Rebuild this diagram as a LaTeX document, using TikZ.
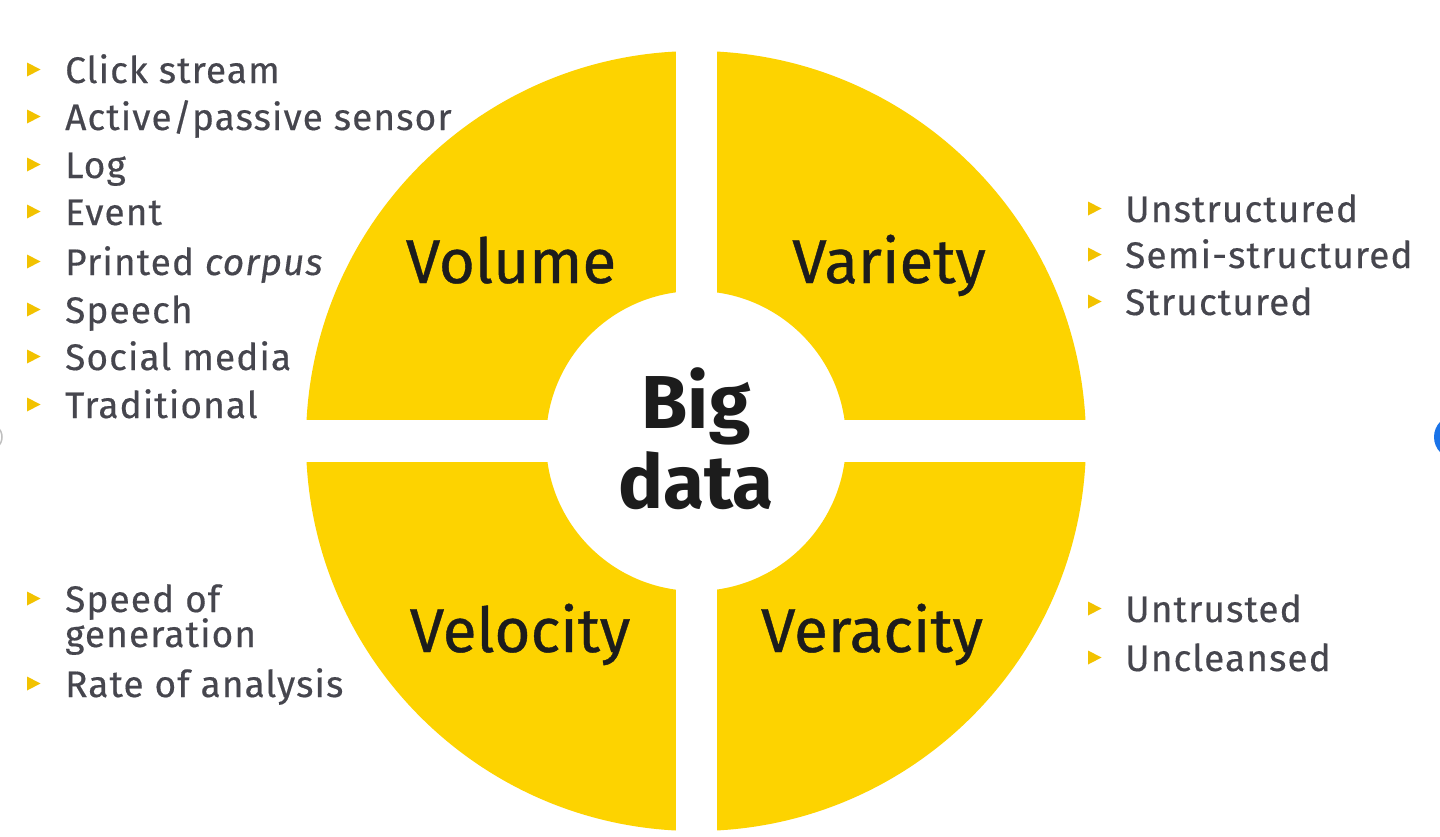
\documentclass[tikz,border=0pt]{standalone}
\usepackage{fontspec}
\setmainfont{Fira Sans}
\newfontfamily\listfont[LetterSpace=3,FakeBold=0.4]{Fira Sans}
\newfontfamily\quadfont[FakeBold=0.6]{Fira Sans}
\definecolor{eyyellow}{HTML}{FDD300}
\definecolor{bullet}{HTML}{F2C200}
\definecolor{listgray}{HTML}{46464E}
\definecolor{labelblack}{HTML}{1C1C1C}
\definecolor{uiblue}{HTML}{1A73E8}
\begin{document}
\begin{tikzpicture}[x=1pt,y=-1pt,
  item/.style={anchor=base west,inner sep=0pt,text=listgray,font=\listfont\fontsize{37}{42}\selectfont},
  quadlabel/.style={anchor=base,inner sep=0pt,text=labelblack,font=\quadfont\fontsize{62}{70}\selectfont},
  centrelabel/.style={anchor=base,inner sep=0pt,text=labelblack,font=\fontsize{75}{80}\selectfont\bfseries},
  tri/.pic={\fill[bullet] (0,-20.5) -- (13.5,-13.5) -- (0,-6.5) -- cycle;}]
\useasboundingbox (0,0) rectangle (1440,836);
\fill[white] (0,0) rectangle (1440,836);
% ring
\coordinate (c) at (696,441);
\fill[eyyellow,even odd rule] (c) circle (390pt) (c) circle (150pt);
\fill[white] (676,40) rectangle (717,840);
\fill[white] (290,420) rectangle (1100,462);
% quadrant labels
\node[quadlabel] (vol) at (511,283) {Volume};
\node[quadlabel] (var) at (889,283) {Variety};
\node[quadlabel] (vel) at (520,652) {Velocity};
\node[quadlabel] (ver) at (872,652) {Veracity};
\node[centrelabel] (big) at (696,428) {Big};
\node[centrelabel] (data) at (696,508) {data};
% left list
\foreach \t/\y [count=\i] in {{Click stream}/83,{Active/passive sensor}/130,{Log}/178,{Event}/225,{Printed \textit{corpus}}/275,{Speech}/323,{Social media}/370,{Traditional}/418}{
  \pic at (27,\y) {tri};
  \node[item] (l\i) at (65,\y) {\t};
}
% right top list
\foreach \t/\y [count=\i] in {{Unstructured}/222,{Semi-structured}/268,{Structured}/315}{
  \pic at (1088,\y) {tri};
  \node[item] (r\i) at (1125,\y) {\t};
}
% bottom left list
\pic at (27,612) {tri};
\node[item] (s1) at (65,612) {Speed of};
\node[item] (s2) at (65,647) {generation};
\pic at (27,697) {tri};
\node[item] (s3) at (65,697) {Rate of analysis};
% bottom right list
\pic at (1088,622) {tri};
\node[item] (u1) at (1125,622) {Untrusted};
\pic at (1088,671) {tri};
\node[item] (u2) at (1125,671) {Uncleansed};
% edge artefacts
\draw[gray!50,line width=1.5pt] (-12,437) circle (14pt);
\fill[uiblue] (1456,437) circle (22pt);
\end{tikzpicture}
\end{document}
